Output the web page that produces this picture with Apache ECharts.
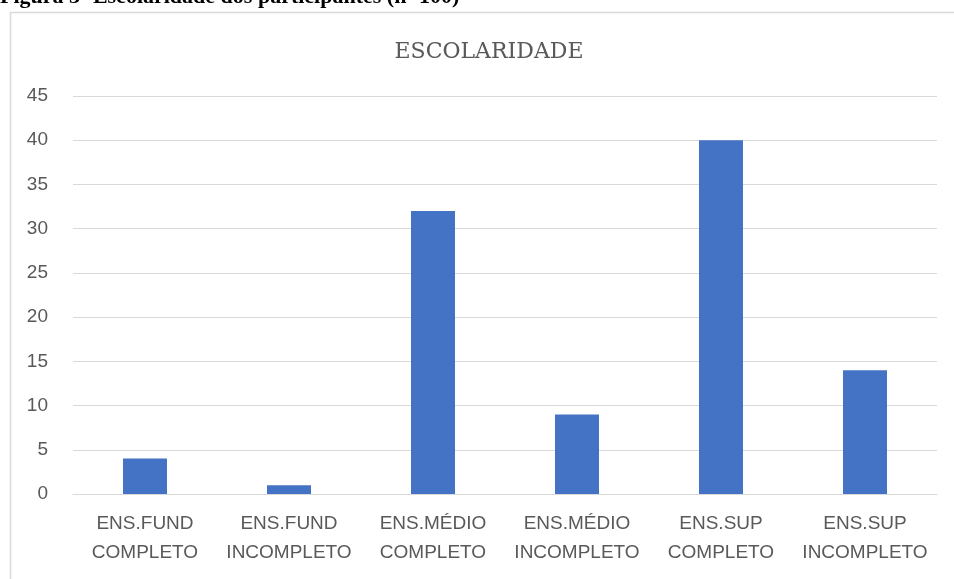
<!DOCTYPE html>
<html>
<head>
<meta charset="utf-8">
<script src="https://cdn.jsdelivr.net/npm/echarts@6/dist/echarts.min.js"></script>
<style>
  html, body { margin: 0; padding: 0; background: #fff; }
  #main { width: 954px; height: 579px; }
</style>
</head>
<body>
<div id="main"></div>
<script>
// categorias e valores (n=100)
var categorias = [
  "ENS.FUND\nCOMPLETO",
  "ENS.FUND\nINCOMPLETO",
  "ENS.MÉDIO\nCOMPLETO",
  "ENS.MÉDIO\nINCOMPLETO",
  "ENS.SUP\nCOMPLETO",
  "ENS.SUP\nINCOMPLETO"
];
var valores = [4, 1, 32, 9, 40, 14];
var yMax = 45;
var yStep = 5;

var myChart = echarts.init(document.getElementById("main"));
var option = {
  animation: false,
  graphic: [
    {
      type: "rect",
      shape: { x: 10.5, y: 12.5, width: 960, height: 600 },
      style: { fill: "#fff", stroke: "#d9d9d9", lineWidth: 1.5 },
      z: -10
    },
    {
      type: "text",
      left: 0,
      top: -14,
      style: {
        text: "Figura 3- Escolaridade dos participantes (n=100)",
        font: "bold 22px 'Liberation Serif'",
        fill: "#000"
      }
    }
  ],
  title: {
    text: "ESCOLARIDADE",
    left: 484,
    textAlign: "center",
    top: 36,
    textStyle: {
      fontFamily: "DejaVu Serif",
      fontSize: 22,
      fontWeight: "normal",
      color: "#595959"
    }
  },
  color: ["#4472c4"],
  grid: {
    left: 73,
    right: 17,
    top: 96,
    bottom: 85
  },
  xAxis: {
    type: "category",
    data: categorias,
    axisLine: { show: true, lineStyle: { color: "#d9d9d9", width: 1 } },
    axisTick: { show: false },
    axisLabel: {
      interval: 0,
      color: "#595959",
      fontFamily: "Liberation Sans",
      fontSize: 19,
      lineHeight: 29,
      margin: 15
    }
  },
  yAxis: {
    type: "value",
    min: 0,
    max: yMax,
    interval: yStep,
    axisLine: { show: false },
    axisTick: { show: false },
    splitLine: { lineStyle: { color: "#d9d9d9", width: 1 } },
    axisLabel: {
      color: "#595959",
      fontFamily: "Liberation Sans",
      fontSize: 19,
      margin: 25
    }
  },
  series: [
    {
      type: "bar",
      data: valores,
      barWidth: 44
    }
  ]
};
option && myChart.setOption(option);
</script>
</body>
</html>
